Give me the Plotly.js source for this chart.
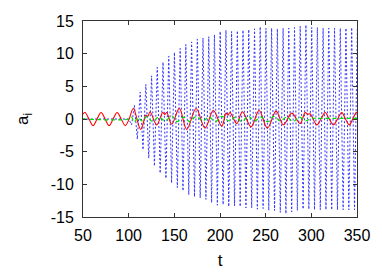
<!DOCTYPE html>
<html>
<head>
<meta charset="utf-8">
<script src="https://cdn.plot.ly/plotly-3.0.1.min.js"></script>
<style>html,body{margin:0;padding:0;background:#fff;}#plot{width:382px;height:273px;}</style>
</head>
<body>
<div id="plot"></div>
<script>
// ---- data ----
const tRed = [50,52.2,56.6,61.0,65.4,69.8,74.2,78.6,83.0,87.4,91.8,96.3,100.5,105.1,113.2,119,121,123.4,130.7,137.3,139.5,141.7,147.1,155.5,163.6,173.8,183.6,192.7,201.9,206.6,208.8,211,218.3,224.5,234,242.8,251.9,261.4,269.4,278.6,287.7,293.2,296,298.6,306,310.6,315.1,319.6,324.2,328.7,333.3,337.4,341.6,345.3,349,350];
const aRed = [0.75,1.0,0,-1.0,0,1.0,0,-1.0,0,1.0,0,-1.0,0,1.6,-1.6,0.6,0.4,1.1,-0.9,1.0,0.7,1.0,-0.8,1.6,-1.6,1.6,-1.4,1.3,-1.1,0.9,0.6,1.0,-0.7,1.1,-1.2,1.3,-1.4,1.2,-0.9,0.9,-0.7,1.0,0.7,0.8,-0.9,0,1.0,0,-0.9,0,1.0,0,-0.9,0,1.0,0.98];

const tGreen = [50,100,103,106,110,115,120,126,133,140,147,153,160,167,174,181,188,195,202,210,217,224,231,238,245,252,259,266,273,280,287,294,300,305,350];
const aGreen = [0,0,0.3,-0.5,0.2,-0.3,0.4,-0.4,0.3,-0.3,0.5,-0.4,0.3,-0.4,0.4,-0.3,0.3,-0.4,0.4,-0.3,0.3,-0.4,0.4,-0.3,0.3,-0.4,0.4,-0.3,0.3,-0.4,0.3,-0.3,0.1,0.1,0.1];

const tBlue = [50,100,103.2,106.3,109.5,112.6,115.7,118.8,122.0,125.1,128.2,131.3,134.5,137.6,140.8,143.9,147.0,150.1,153.3,156.4,159.5,162.6,165.8,168.9,172.1,175.2,178.3,181.4,184.6,187.7,190.8,193.9,197.1,200.2,203.4,206.5,209.6,212.7,215.9,219.0,222.1,225.2,228.4,231.5,234.7,237.8,240.9,244.0,247.2,250.3,253.4,256.5,259.7,262.8,266.0,269.1,272.2,275.3,278.5,281.6,284.7,287.8,291.0,294.1,297.3,300.4,303.5,306.6,309.8,312.9,316.0,319.1,322.3,325.4,328.6,331.7,334.8,337.9,341.1,344.2,347.3,350.4];
const aBlue = [0,0,-0.9,2.1,-3.1,4.1,-4.7,5.3,-6.0,6.6,-7.2,7.9,-8.3,8.7,-9.1,9.6,-9.8,10.2,-10.5,10.8,-11.0,11.4,-11.6,11.8,-11.9,12.2,-12.1,12.4,-12.3,12.6,-12.8,12.9,-13.2,13.4,-13.1,13.6,-13.4,13.4,-13.3,13.5,-13.4,13.6,-13.6,13.7,-13.6,13.8,-13.8,14.1,-13.7,13.9,-14.0,13.9,-14.0,13.8,-14.3,13.9,-14.5,13.9,-14.2,14.0,-14.0,14.2,-13.8,14.4,-13.8,14.0,-13.9,14.0,-13.9,13.9,-13.9,13.9,-13.9,13.9,-13.9,13.9,-13.9,13.9,-13.9,14.0,-13.9,14.0];

const xTicks = [50,100,150,200,250,300,350];
const yTicks = [-15,-10,-5,0,5,10,15];

const traces = [
  {x: tBlue, y: aBlue, mode: 'lines', line: {color: '#3333ff', width: 1, dash: '2px,2px'}},
  {x: tRed, y: aRed, mode: 'lines', line: {color: '#ff0000', width: 1.1, shape: 'spline'}},
  {x: tGreen, y: aGreen, mode: 'lines', line: {color: '#00dd00', width: 1.2, dash: '4px,3px', shape: 'spline'}}
];

const axisCommon = {
  showgrid: false, zeroline: false, showline: true, linecolor: '#333', linewidth: 1,
  mirror: 'allticks', ticks: 'inside', ticklen: 4, tickcolor: '#333',
  tickfont: {family: 'Liberation Sans, Arial, sans-serif', size: 16, color: '#000'}
};

const layout = {
  width: 382, height: 273,
  margin: {l: 83, r: 25, t: 21, b: 56},
  paper_bgcolor: '#fff', plot_bgcolor: '#fff',
  showlegend: false,
  font: {family: 'Liberation Sans, Arial, sans-serif', size: 16, color: '#000'},
  xaxis: Object.assign({}, axisCommon, {range: [50, 350], tickvals: xTicks, ticktext: xTicks.map(String),
    ticklabelstandoff: 4,
    title: {text: 't', font: {size: 17}, standoff: 10}}),
  yaxis: Object.assign({}, axisCommon, {range: [-15, 15], tickvals: yTicks, ticktext: yTicks.map(String),
    ticklabelstandoff: 5,
    title: {text: 'a<sub>i</sub>', font: {size: 17}, standoff: 17}})
};

Plotly.newPlot('plot', traces, layout, {staticPlot: true, displayModeBar: false});
</script>
</body>
</html>
